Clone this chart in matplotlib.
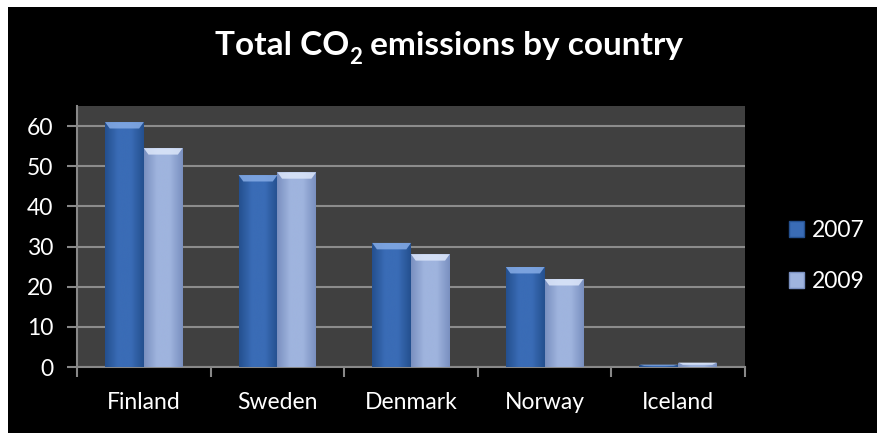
import numpy as np
import matplotlib
matplotlib.use('Agg')
import matplotlib.pyplot as plt
from matplotlib.patches import Rectangle, Patch, Polygon
from matplotlib.colors import LinearSegmentedColormap

countries = ['Finland', 'Sweden', 'Denmark', 'Norway', 'Iceland']
years = ['2007', '2009']
co2_2007 = [61.0, 47.8, 30.9, 24.9, 0.6]
co2_2009 = [54.5, 48.5, 28.1, 21.9, 1.1]

plt.rcParams['font.family'] = ['Lato', 'DejaVu Sans']

# colours: (edge dark, centre, top bevel)
styles = {
    '2007': ('#24508f', '#3a6cb6', '#86ace6'),
    '2009': ('#7a90c0', '#9fb4de', '#dde7fa'),
}


def bevel_bar(ax, patch, style):
    dark, mid, light = style
    x0, y0 = patch.get_x(), patch.get_y()
    w, h = patch.get_width(), patch.get_height()
    cmap = LinearSegmentedColormap.from_list('b', [dark, mid, mid, dark])
    grad = np.linspace(0, 1, 64).reshape(1, -1)
    im = ax.imshow(grad, cmap=cmap, aspect='auto', extent=(x0, x0 + w, y0, y0 + h),
                   zorder=3, interpolation='bicubic')
    im.set_clip_path(patch)
    # top bevel
    dx = 0.035
    dy = min(1.6, h * 0.5)
    top = y0 + h
    poly = Polygon([(x0, top), (x0 + w, top), (x0 + w - dx, top - dy), (x0 + dx, top - dy)],
                   closed=True, facecolor=light, edgecolor='none', alpha=0.85, zorder=4)
    ax.add_patch(poly)


fig = plt.figure(figsize=(8.77, 4.33), dpi=100, facecolor='white')
fig.patches.append(Rectangle((8 / 877, 0), 1, 1 - 7 / 433, transform=fig.transFigure,
                             facecolor='black', edgecolor='none', zorder=-10))

ax = fig.add_axes([0.0878, 0.1524, 0.7617, 0.6028])
ax.set_zorder(1)
ax.set_facecolor('#404040')

x = np.arange(len(countries)) + 0.5
bw = 0.29
bars07 = ax.bar(x - bw / 2, co2_2007, width=bw, color=styles['2007'][1], zorder=2)
bars09 = ax.bar(x + bw / 2, co2_2009, width=bw, color=styles['2009'][1], zorder=2)
for p in bars07:
    bevel_bar(ax, p, styles['2007'])
for p in bars09:
    bevel_bar(ax, p, styles['2009'])

ax.set_xlim(0, len(countries))
ax.set_ylim(0, 65)
ax.set_yticks(range(0, 61, 10))
ax.set_xticks(np.arange(len(countries) + 1))
ax.set_xticklabels([])
ax.set_xticks(x, minor=True)
ax.set_xticklabels(countries, minor=True)
ax.tick_params(axis='x', which='minor', length=0, pad=18, labelsize=16.5, labelcolor='white')
ax.tick_params(axis='x', which='major', length=7, color='#888888', width=1.5)
ax.tick_params(axis='y', length=7, color='#888888', width=1.5, labelsize=16.5,
               labelcolor='white', pad=10)
ax.yaxis.grid(True, color='#8c8c8c', linewidth=1.5, zorder=1)
ax.set_axisbelow(True)
for s in ['top', 'right']:
    ax.spines[s].set_visible(False)
for s in ['left', 'bottom']:
    ax.spines[s].set_color('#888888')
    ax.spines[s].set_linewidth(1.5)

handles = [Patch(facecolor=styles[y][1], edgecolor=styles[y][0]) for y in years]
leg = ax.legend(handles, years, loc='center left', bbox_to_anchor=(1.035, 0.425),
                frameon=False, fontsize=16.5, labelcolor='white', handlelength=0.65,
                handleheight=0.65, handletextpad=0.35, labelspacing=1.3)

# title with a lowered subscript
t1 = fig.text(0.245, 0.862, 'Total CO', color='white', fontsize=24,
              fontweight='bold', ha='left', va='bottom')
t2 = ax.annotate('2', xy=(1, 0), xycoords=t1, xytext=(0, -6), textcoords='offset points',
                 color='white', fontsize=16, fontweight='bold', ha='left', va='bottom',
                 annotation_clip=False)
t3 = ax.annotate(' emissions by country', xy=(1, 0), xycoords=(t2, t1),
                 xytext=(0, 0), textcoords='offset points', color='white', fontsize=24,
                 fontweight='bold', ha='left', va='bottom', annotation_clip=False)

fig.savefig('out.png', dpi=100, facecolor=fig.get_facecolor())
